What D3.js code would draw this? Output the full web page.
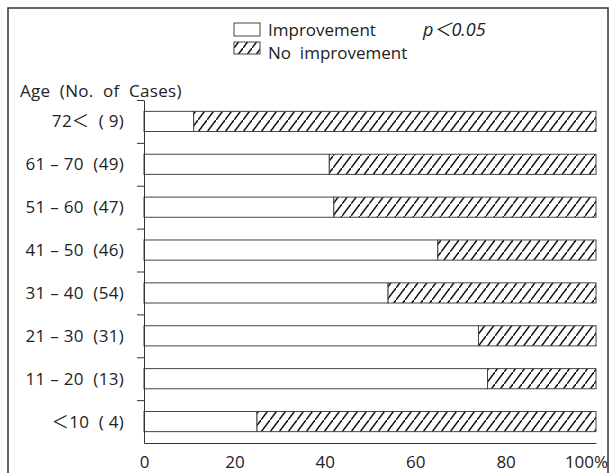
<!DOCTYPE html>
<html>
<head>
<meta charset="utf-8">
<script src="https://cdn.jsdelivr.net/npm/d3@7"></script>
<style>
body { margin: 0; background: #fff; }
text { font-family: "Open Sans", "Noto Sans CJK JP", sans-serif; fill: #222; white-space: pre; }
</style>
</head>
<body>
<div id="chart"></div>
<script>
// age groups, top to bottom
var ages = ["72\uFF1C", "61 \u2013 70", "51 \u2013 60", "41 \u2013 50", "31 \u2013 40", "21 \u2013 30", "11 \u2013 20", "\uFF1C10"];
var cases = [" 9", "49", "47", "46", "54", "31", "13", " 4"];
var improvement = [11, 41, 42, 65, 54, 74, 76, 25];
var noImprovement = [89, 59, 58, 35, 46, 26, 24, 75];
var xTicks = [0, 20, 40, 60, 80, 100];

var svg = d3.select("#chart").append("svg").attr("width", 616).attr("height", 473);

// hatch pattern
var pat = svg.append("defs").append("pattern").attr("id", "hatch")
	.attr("patternUnits", "userSpaceOnUse").attr("width", 9).attr("height", 12);
pat.append("rect").attr("width", 9).attr("height", 12).attr("fill", "#fff");
pat.append("path").attr("d", "M-1,13.33 L10,-1.33").attr("stroke", "#111").attr("stroke-width", 1.5);

// outer frame
svg.append("rect").attr("x", 8).attr("y", 8).attr("width", 600).attr("height", 490)
	.attr("fill", "none").attr("stroke", "#333").attr("stroke-width", 1.5);

var x = d3.scaleLinear().domain([0, 100]).range([144, 596]);
var y = d3.scaleBand().domain(d3.range(ages.length)).range([100, 443]).paddingInner(0.53).paddingOuter(0.265);
var yEdge = d3.scaleLinear().domain([0, ages.length]).range([100, 443]);

// bars
var g = svg.append("g");
g.selectAll("rect.imp").data(improvement).enter().append("rect").attr("class", "imp")
	.attr("x", x(0)).attr("y", function(d, i){ return y(i); })
	.attr("width", function(d){ return x(d) - x(0); }).attr("height", y.bandwidth())
	.attr("fill", "#fff").attr("stroke", "#444").attr("stroke-width", 1);
g.selectAll("rect.no").data(noImprovement).enter().append("rect").attr("class", "no")
	.attr("x", function(d, i){ return x(improvement[i]); }).attr("y", function(d, i){ return y(i); })
	.attr("width", function(d, i){ return x(improvement[i] + d) - x(improvement[i]); }).attr("height", y.bandwidth())
	.attr("fill", "url(#hatch)").attr("stroke", "#444").attr("stroke-width", 1);

// y axis with ticks between groups
var yAxis = svg.append("g").attr("transform", "translate(144,0)")
	.call(d3.axisLeft(yEdge).tickValues(d3.range(ages.length)).tickFormat("").tickSizeInner(7).tickSizeOuter(0));
yAxis.select(".domain").attr("stroke", "#333");
yAxis.selectAll(".tick line").attr("stroke", "#333");

// category labels
svg.selectAll("text.cat").data(ages).enter().append("text").attr("class", "cat")
	.attr("x", 124).attr("y", function(d, i){ return y(i) + y.bandwidth() / 2 + 6; })
	.attr("text-anchor", "end").attr("font-size", 17).attr("letter-spacing", 0.3)
	.text(function(d, i){ return d + "  (" + cases[i] + ")"; });

// x axis
var xAxis = svg.append("g").attr("transform", "translate(0,443)")
	.call(d3.axisBottom(x).tickValues(xTicks).tickSize(0).tickPadding(13)
		.tickFormat(function(d){ return d == 100 ? "100%" : d; }));
xAxis.select(".domain").attr("stroke", "#333");
xAxis.selectAll(".tick text").attr("font-size", 17).attr("font-family", "Open Sans").attr("fill", "#222")
	.attr("dx", function(d){ return d == 100 ? -10 : 0; });

// titles and legend
svg.append("text").attr("x", 20).attr("y", 97).attr("font-size", 17).attr("letter-spacing", 0.3).text("Age  (No.  of  Cases)");
svg.append("rect").attr("x", 234).attr("y", 23).attr("width", 26).attr("height", 13).attr("fill", "#fff").attr("stroke", "#444");
svg.append("text").attr("x", 268).attr("y", 36).attr("font-size", 17).text("Improvement");
svg.append("rect").attr("x", 234).attr("y", 42).attr("width", 26).attr("height", 12).attr("fill", "url(#hatch)").attr("stroke", "#444");
svg.append("text").attr("x", 268).attr("y", 59).attr("font-size", 17).text("No  improvement");
svg.append("text").attr("x", 423).attr("y", 36).attr("font-size", 18).attr("font-style", "italic")
	.attr("font-family", "Liberation Serif").text("p\uFF1C0.05");
</script>
</body>
</html>
